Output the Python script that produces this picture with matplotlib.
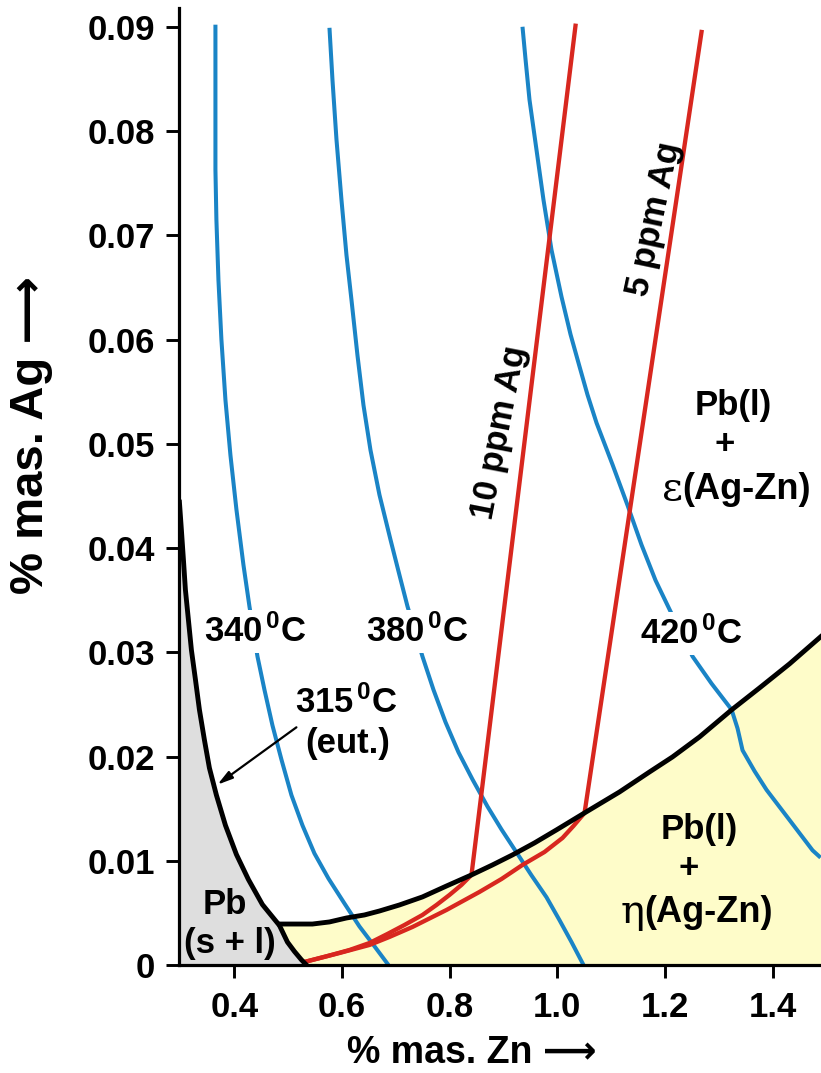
import matplotlib
matplotlib.use("Agg")
import matplotlib.pyplot as plt

# ---------------- data ----------------
# isotherms (% Zn, % Ag)
ZN_340 = [0.3647, 0.3647, 0.3665, 0.3703, 0.3758, 0.3833, 0.3926, 0.4037, 0.4167, 0.4279, 0.4428,
          0.4558, 0.4706, 0.4874, 0.5059, 0.5264, 0.5487, 0.5747, 0.6045, 0.6323, 0.6602, 0.6862]
AG_340 = [0.0902, 0.0763, 0.0715, 0.0657, 0.0600, 0.0542, 0.0489, 0.0437, 0.0384, 0.0344, 0.0296,
          0.0264, 0.0230, 0.0197, 0.0163, 0.0134, 0.0107, 0.0083, 0.0059, 0.0037, 0.0018, 0.0]

ZN_380 = [0.5766, 0.5822, 0.5896, 0.5989, 0.6082, 0.6175, 0.6286, 0.6398, 0.6528, 0.6695, 0.6900,
          0.7067, 0.7216, 0.7494, 0.7699, 0.7922, 0.8164, 0.8424, 0.8703, 0.8963, 0.9242, 0.9520,
          0.9799, 1.0041, 1.0264, 1.0487]
AG_380 = [0.0899, 0.0849, 0.0792, 0.0734, 0.0681, 0.0638, 0.0585, 0.0537, 0.0494, 0.0451, 0.0408,
          0.0374, 0.0344, 0.0296, 0.0264, 0.0233, 0.0204, 0.0178, 0.0152, 0.0130, 0.0108, 0.0086,
          0.0065, 0.0043, 0.0022, 0.0]

ZN_420 = [0.9353, 0.9409, 0.9483, 0.9613, 0.9743, 0.9892, 1.0078, 1.0245, 1.0413, 1.0561, 1.0729,
          1.1026, 1.1305, 1.1565, 1.1825, 1.2086, 1.2513, 1.2866, 1.3238, 1.3349, 1.3442, 1.3665,
          1.3888, 1.4316, 1.4743, 1.4892]
AG_420 = [0.0900, 0.0869, 0.0830, 0.0782, 0.0734, 0.0686, 0.0641, 0.0605, 0.0574, 0.0547, 0.0520,
          0.0480, 0.0441, 0.0403, 0.0369, 0.0341, 0.0296, 0.0270, 0.0245, 0.0227, 0.0206, 0.0186,
          0.0168, 0.0139, 0.0110, 0.0103]

# Ag iso-concentration lines in lead
ZN_10PPM = [1.0338, 0.8405, 0.8219, 0.7996, 0.7755, 0.7494, 0.7160, 0.6844, 0.6509, 0.6138, 0.5729, 0.5301]
AG_10PPM = [0.0901, 0.00864, 0.00768, 0.00672, 0.00576, 0.00480, 0.00384, 0.00298, 0.00211, 0.00144,
            0.00086, 0.00029]

ZN_5PPM = [1.2680, 1.0506, 1.0301, 1.0097, 0.9762, 0.9353, 0.8963, 0.8554, 0.7941, 0.7309, 0.6881,
           0.6509, 0.5952, 0.5301]
AG_5PPM = [0.0895, 0.01459, 0.01334, 0.01219, 0.01084, 0.00960, 0.00825, 0.00701, 0.00528, 0.00365,
           0.00269, 0.00192, 0.00115, 0.00029]

# eutectic liquidus (left boundary), ends at the foot on the Zn axis
ZN_EUT = [0.2978, 0.3015, 0.3052, 0.3089, 0.3145, 0.3201, 0.3275, 0.3349, 0.3442, 0.3535, 0.3665,
          0.3833, 0.4037, 0.4260, 0.4520, 0.4836, 0.4892, 0.4985, 0.5115, 0.5245, 0.5338]
AG_EUT = [0.0444, 0.0417, 0.0389, 0.0360, 0.0331, 0.0302, 0.0274, 0.0245, 0.0216, 0.0189, 0.0163,
          0.0134, 0.0106, 0.0082, 0.0058, 0.0038, 0.0032, 0.0022, 0.0013, 0.0005, 0.0]
EUT_KINK = 15  # index of the corner where the eta boundary starts

# upper boundary of Pb(l) + eta(Ag-Zn)
ZN_ETA = [0.4836, 0.5450, 0.5766, 0.6082, 0.6416, 0.6695, 0.7067, 0.7494, 0.7941, 0.8405, 0.8796,
          0.9167, 0.9576, 0.9985, 1.0506, 1.1156, 1.1714, 1.2141, 1.2643, 1.3238, 1.3758, 1.4316, 1.4892]
AG_ETA = [0.00393, 0.00393, 0.00413, 0.00451, 0.00480, 0.00518, 0.00576, 0.00653, 0.00758, 0.00864,
          0.00960, 0.01056, 0.01171, 0.01296, 0.01459, 0.01660, 0.01852, 0.01996, 0.02188, 0.02447,
          0.02658, 0.02889, 0.03148]

X_TICKS = [0.4, 0.6, 0.8, 1.0, 1.2, 1.4]
X_TICK_LABELS = ["0.4", "0.6", "0.8", "1.0", "1.2", "1.4"]
Y_TICKS = [0.0, 0.01, 0.02, 0.03, 0.04, 0.05, 0.06, 0.07, 0.08, 0.09]
Y_TICK_LABELS = ["0", "0.01", "0.02", "0.03", "0.04", "0.05", "0.06", "0.07", "0.08", "0.09"]

XMIN, XMAX = 0.297, 1.49
YMIN, YMAX = 0.0, 0.0918

# ---------------- styling ----------------
FONT = ["Liberation Sans", "DejaVu Sans"]
plt.rcParams["font.family"] = FONT
plt.rcParams["font.weight"] = "bold"
plt.rcParams["mathtext.fontset"] = "custom"
plt.rcParams["mathtext.rm"] = "Liberation Sans:bold"
plt.rcParams["mathtext.it"] = "Liberation Sans:bold"
plt.rcParams["mathtext.bf"] = "Liberation Sans:bold"

BLUE = "#1a84c6"
RED = "#d8271f"
YELLOW = "#fefcc9"
GRAY = "#dedede"

fig = plt.figure(figsize=(8.21, 10.73), dpi=100)
ax = fig.add_axes([179 / 821, 1 - 965 / 1073, 1 - 179 / 821, (965 - 8) / 1073])
ax.set_xlim(XMIN, XMAX)
ax.set_ylim(YMIN, YMAX)

# fills
gray_x = [XMIN] + ZN_EUT + [XMIN]
gray_y = [AG_EUT[0]] + AG_EUT + [0.0]
ax.fill(gray_x, gray_y, color=GRAY, lw=0, zorder=1)

yel_x = ZN_ETA + [XMAX, XMAX] + ZN_EUT[::-1][: len(ZN_EUT) - EUT_KINK]
yel_y = AG_ETA + [AG_ETA[-1], 0.0] + AG_EUT[::-1][: len(AG_EUT) - EUT_KINK]
ax.fill(yel_x, yel_y, color=YELLOW, lw=0, zorder=1)

# isotherms
for xs, ys in [(ZN_340, AG_340), (ZN_380, AG_380), (ZN_420, AG_420)]:
    ax.plot(xs, ys, color=BLUE, lw=2.9, zorder=2, solid_capstyle="butt", solid_joinstyle="round")

# red ppm lines
ax.plot(ZN_10PPM, AG_10PPM, color=RED, lw=3.1, zorder=3, solid_joinstyle="round")
ax.plot(ZN_5PPM, AG_5PPM, color=RED, lw=3.1, zorder=3, solid_joinstyle="round")

# black boundaries
ax.plot(ZN_EUT, AG_EUT, color="black", lw=3.5, zorder=4, solid_joinstyle="round")
ax.plot(ZN_ETA, AG_ETA, color="black", lw=3.5, zorder=4, solid_joinstyle="round")

# axes styling
for s in ["top", "right"]:
    ax.spines[s].set_visible(False)
for s in ["left", "bottom"]:
    ax.spines[s].set_linewidth(2.3)
    ax.spines[s].set_zorder(6)
ax.set_xticks(X_TICKS)
ax.set_xticklabels(X_TICK_LABELS)
ax.set_yticks(Y_TICKS)
ax.set_yticklabels(Y_TICK_LABELS)
ax.tick_params(axis="both", direction="out", length=9.5, width=2.1, labelsize=25)
ax.tick_params(axis="x", pad=9)
ax.tick_params(axis="y", pad=8)
for lab in ax.get_xticklabels() + ax.get_yticklabels():
    lab.set_fontweight("bold")

fig.text(472 / 821, 1 - 1053 / 1073, "% mas. Zn \u27f6", ha="center", va="center",
         fontsize=27, fontweight="bold", family=FONT)
fig.text(31 / 821, 1 - 435 / 1073, "% mas. Ag \u27f6", ha="center", va="center",
         rotation=90, fontsize=34, fontweight="bold", family=FONT)

# labels
box = dict(facecolor="white", edgecolor="none", pad=3)
tk = dict(ha="center", va="center", fontsize=25, fontweight="bold", zorder=5)
ax.text(0.439, 0.0320, r"340$^{\,0}$C", bbox=box, **tk)
ax.text(0.740, 0.0320, r"380$^{\,0}$C", bbox=box, **tk)
ax.text(1.2494, 0.0318, r"420$^{\,0}$C", bbox=box, **tk)
ax.text(0.608, 0.0252, r"315$^{\,0}$C", **tk)
ax.text(0.610, 0.0212, "(eut.)", **tk)
ax.annotate("", xy=(0.3684, 0.0173), xytext=(0.5152, 0.0228),
            arrowprops=dict(arrowstyle="-|>,head_length=0.9,head_width=0.25",
                            color="black", lw=1.6, shrinkA=0, shrinkB=0), zorder=5)
ax.text(0.3814, 0.00585, "Pb", **tk)
ax.text(0.3907, 0.0021, "(s + l)", **tk)
ax.text(0.8926, 0.0511, "10 ppm Ag", rotation=79, rotation_mode="anchor", **tk)
ax.text(1.1807, 0.0716, "5 ppm Ag", rotation=78, rotation_mode="anchor", **tk)

ax.text(1.3275, 0.0537, "Pb(l)", **tk)
ax.text(1.3108, 0.0499, "+", **tk)
ax.text(1.2327, 0.0456, "\u03b5", ha="right", va="center", fontsize=29,
        fontweight="normal", family=["DejaVu Serif"], zorder=5)
ax.text(1.2327, 0.0456, "(Ag-Zn)", ha="left", va="center", fontsize=26, fontweight="bold", zorder=5)

ax.text(1.2643, 0.01296, "Pb(l)", **tk)
ax.text(1.2439, 0.0093, "+", **tk)
ax.text(1.162, 0.0050, "\u03b7", ha="right", va="center", fontsize=29,
        fontweight="normal", family=["DejaVu Serif"], zorder=5)
ax.text(1.162, 0.0050, "(Ag-Zn)", ha="left", va="center", fontsize=26, fontweight="bold", zorder=5)

fig.savefig("out.png", dpi=100)
